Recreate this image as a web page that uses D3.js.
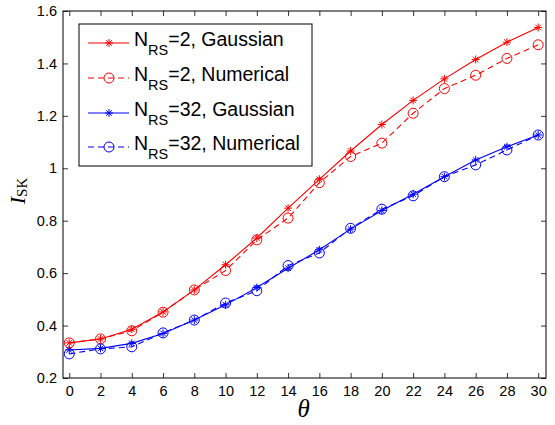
<!DOCTYPE html>
<html><head><meta charset="utf-8">
<script src="https://cdn.jsdelivr.net/npm/d3@7"></script>
<style>body{margin:0;background:#fff}svg{display:block}</style>
</head><body>
<script>
const theta = [0,2,4,6,8,10,12,14,16,18,20,22,24,26,28,30];
const rs2Gauss = [0.334,0.349,0.386,0.452,0.536,0.632,0.734,0.848,0.958,1.066,1.167,1.259,1.341,1.415,1.481,1.537];
const rs2Num   = [0.334,0.349,0.380,0.451,0.536,0.610,0.727,0.810,0.945,1.045,1.096,1.210,1.304,1.355,1.419,1.471];
const rs32Gauss= [0.307,0.313,0.332,0.370,0.421,0.479,0.545,0.619,0.689,0.768,0.839,0.901,0.968,1.032,1.082,1.127];
const rs32Num  = [0.292,0.311,0.319,0.372,0.421,0.486,0.533,0.629,0.677,0.771,0.844,0.895,0.968,1.013,1.070,1.127];
const xTicks = [0,2,4,6,8,10,12,14,16,18,20,22,24,26,28,30];
const yTicks = [0.2,0.4,0.6,0.8,1.0,1.2,1.4,1.6];
const series = [
  {n:"2", kind:"Gaussian", vals:rs2Gauss, color:"#ff0000", dash:null, marker:"star"},
  {n:"2", kind:"Numerical", vals:rs2Num, color:"#ff0000", dash:"6,4", marker:"circle"},
  {n:"32", kind:"Gaussian", vals:rs32Gauss, color:"#0000ff", dash:null, marker:"star"},
  {n:"32", kind:"Numerical", vals:rs32Num, color:"#0000ff", dash:"6,4", marker:"circle"}
];

const W=555,H=425, L=63,R=546,T=11,B=378;
const svg = d3.select("body").append("svg").attr("width",W).attr("height",H);
const x = d3.scaleLinear().domain([-0.4,30.5]).range([L,R]);
const y = d3.scaleLinear().domain([0.2,1.6]).range([B,T]);
const font = "Liberation Sans, Arial, Helvetica, sans-serif";

// axes
const fmt = d => d===1 ? "1" : d3.format(".1f")(d);
const gx = svg.append("g").attr("transform",`translate(0,${B})`)
  .call(d3.axisBottom(x).tickValues(xTicks).tickSize(-5).tickPadding(8).tickFormat(d3.format("d")));
const gxt = svg.append("g").attr("transform",`translate(0,${T})`)
  .call(d3.axisTop(x).tickValues(xTicks).tickSize(-5).tickFormat(""));
const gy = svg.append("g").attr("transform",`translate(${L},0)`)
  .call(d3.axisLeft(y).tickValues(yTicks).tickSize(-5).tickPadding(6).tickFormat(fmt));
const gyr = svg.append("g").attr("transform",`translate(${R},0)`)
  .call(d3.axisRight(y).tickValues(yTicks).tickSize(-5).tickFormat(""));
[gx,gxt,gy,gyr].forEach(g=>{
  g.selectAll(".domain").remove();
  g.selectAll("line").attr("stroke","#000").attr("stroke-width",0.8);
  g.selectAll("text").attr("font-family",font).attr("font-size",14.5).attr("fill","#000");
});
svg.append("rect").attr("x",L).attr("y",T).attr("width",R-L).attr("height",B-T)
  .attr("fill","none").attr("stroke","#000").attr("stroke-width",1);

// axis labels
svg.append("text").attr("x",x(15)).attr("y",417).attr("text-anchor","middle")
  .attr("font-family","Liberation Serif, Times New Roman, serif").attr("font-style","italic")
  .attr("font-size",25).text("θ");
const yl = svg.append("text").attr("transform","translate(25,191) rotate(-90)").attr("text-anchor","middle")
  .attr("font-family","Liberation Serif, Times New Roman, serif").attr("font-size",22);
yl.append("tspan").attr("font-style","italic").text("I");
yl.append("tspan").attr("font-size",15).attr("dy",2).text("SK");

function drawMarker(g, cx, cy, s){
  if(s.marker==="circle"){
    g.append("circle").attr("cx",cx).attr("cy",cy).attr("r",5)
      .attr("fill","none").attr("stroke",s.color).attr("stroke-width",1);
  } else {
    const r=4;
    const p = `M${cx-r},${cy}L${cx+r},${cy}M${cx},${cy-r}L${cx},${cy+r}` +
      `M${cx-r*0.7},${cy-r*0.7}L${cx+r*0.7},${cy+r*0.7}M${cx-r*0.7},${cy+r*0.7}L${cx+r*0.7},${cy-r*0.7}`;
    g.append("path").attr("d",p).attr("stroke",s.color).attr("stroke-width",1).attr("fill","none");
  }
}

const line = d3.line().x(d=>x(d[0])).y(d=>y(d[1]));
series.forEach(s=>{
  const pts = theta.map((t,i)=>[t,s.vals[i]]);
  svg.append("path").datum(pts).attr("d",line).attr("fill","none")
    .attr("stroke",s.color).attr("stroke-width",1.1)
    .attr("stroke-dasharray",s.dash);
  const g = svg.append("g");
  pts.forEach(p=>drawMarker(g,x(p[0]),y(p[1]),s));
});

// legend
const lg = svg.append("g");
lg.append("rect").attr("x",79).attr("y",24).attr("width",233).attr("height",142)
  .attr("fill","#fff").attr("stroke","#000").attr("stroke-width",1);
const rowY = [43,78,113,147];
series.forEach((s,i)=>{
  const yy=rowY[i];
  lg.append("line").attr("x1",88).attr("x2",129).attr("y1",yy).attr("y2",yy)
    .attr("stroke",s.color).attr("stroke-width",1.1).attr("stroke-dasharray",s.dash);
  drawMarker(lg,109,yy,s);
  const t = lg.append("text").attr("x",134).attr("y",yy+3).attr("font-family",font).attr("font-size",19.5);
  t.append("tspan").text("N");
  t.append("tspan").attr("font-size",14.5).attr("dy",9).text("RS");
  t.append("tspan").attr("dy",-9).text("="+s.n+", "+s.kind);
});
</script>
</body></html>
